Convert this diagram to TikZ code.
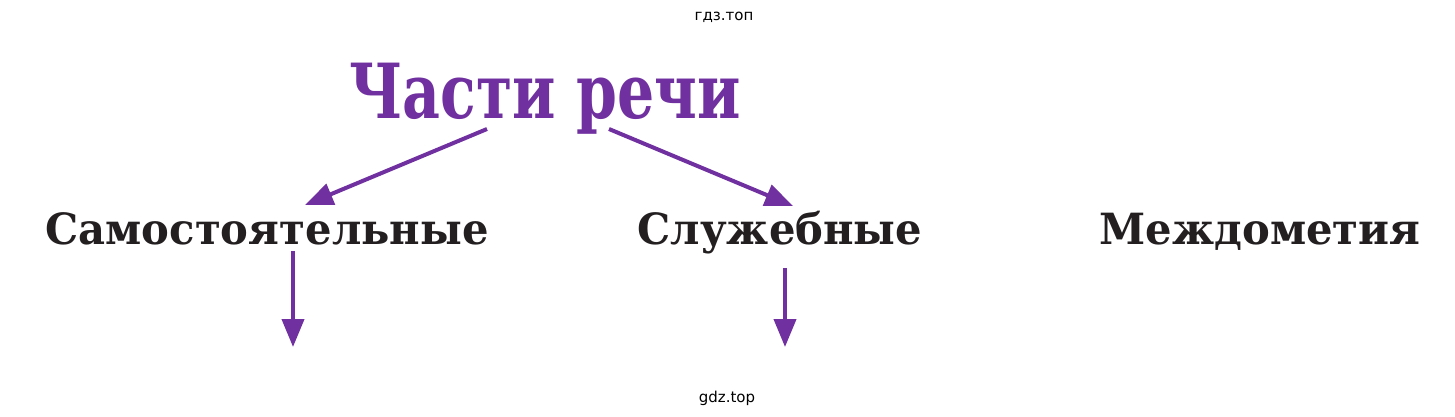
\documentclass[tikz,border=0pt]{standalone}
\usepackage{fontspec}
\setmainfont{DejaVu Serif}
\newfontfamily\wmfont{DejaVu Sans}
\newfontfamily\titlefont[FakeStretch=0.77]{DejaVu Serif}
\newfontfamily\kindfont[FakeStretch=0.97]{DejaVu Serif}
\usetikzlibrary{arrows.meta,positioning}
\definecolor{mypurple}{RGB}{112,48,160}
\definecolor{myblack}{RGB}{35,31,32}
\tikzstyle{title}=[text=mypurple,font=\titlefont\fontsize{76}{80}\selectfont\bfseries,inner sep=0pt,anchor=base]
\tikzstyle{kind}=[text=myblack,font=\kindfont\fontsize{43}{48}\selectfont\bfseries,inner sep=0pt,anchor=base]
\tikzstyle{wmark}=[text=black,font=\wmfont\fontsize{15}{17}\selectfont,inner sep=0pt,anchor=base]
\tikzstyle{arr}=[draw=mypurple,line width=4pt,-{Triangle[length=28pt,width=22pt]}]

\begin{document}
\begin{tikzpicture}[x=1pt,y=-1pt]
\useasboundingbox (0,0) rectangle (1455,416);
\node [wmark] (wm1) at (724,20) {гдз.топ};
\node [title] (parts) at (545,118) {Части речи};
\node [kind] (indep) at (267,244) {Самостоятельные};
\node [kind] (aux) at (780,244) {Служебные};
\node [kind] (inter) at (1260,244) {Междометия};
\node [wmark] (wm2) at (727,402) {gdz.top};
\coordinate (p1) at (487,129);
\coordinate (p2) at (609,129);
\coordinate (q1) at (305,205);
\coordinate (q2) at (793,206);
\coordinate (d1) at (293,347);
\coordinate (d2) at (785,347);
\draw [arr] (p1) -- (q1);
\draw [arr] (p2) -- (q2);
\draw [arr] (indep.south -| d1) ++(0,6) -- (d1);
\draw [arr] (aux.south -| d2) ++(0,14) -- (d2);
\end{tikzpicture}
\end{document}
